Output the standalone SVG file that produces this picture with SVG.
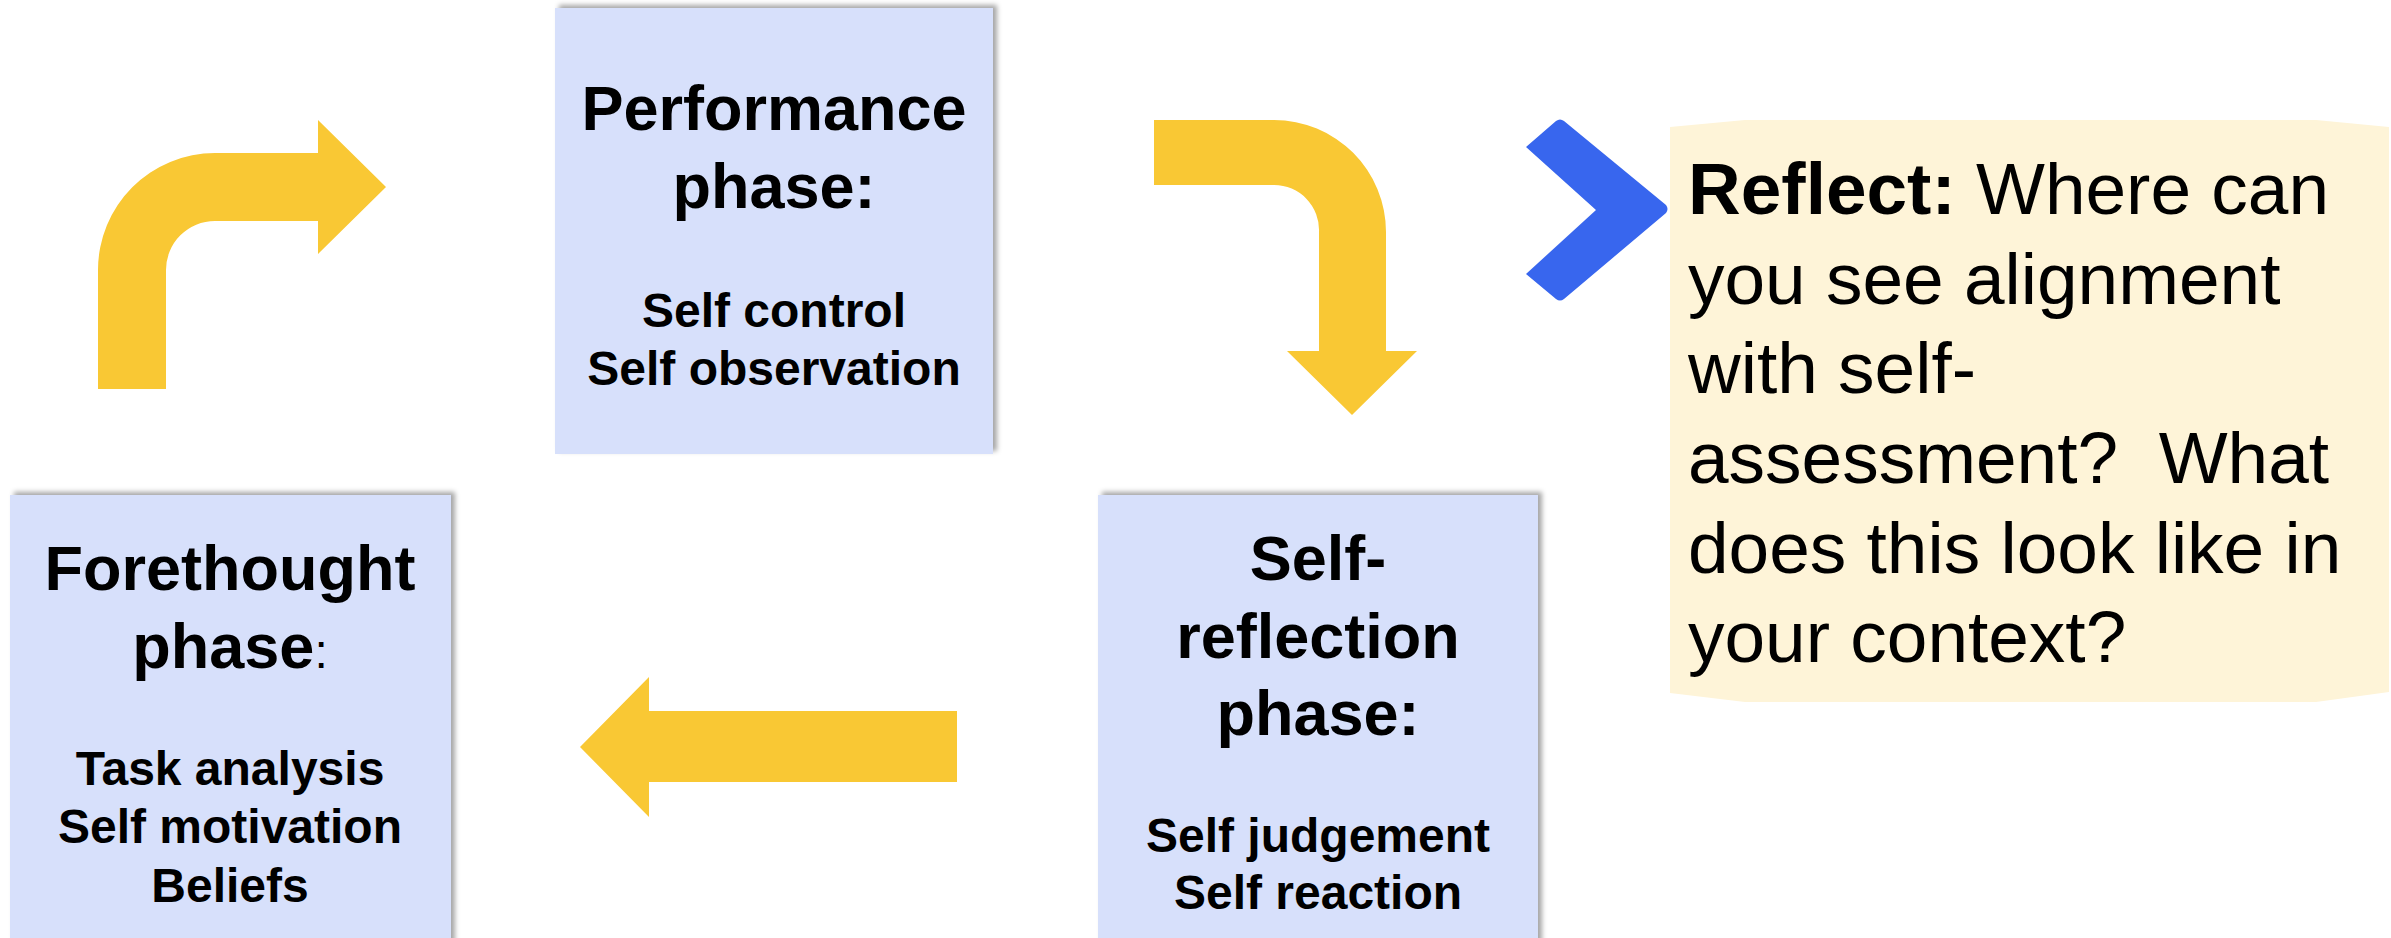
<svg xmlns="http://www.w3.org/2000/svg" width="2391" height="938" viewBox="0 0 2391 938">
  <style>
    .box { fill: #D7E0FB; filter: url(#sh); }
    .arrow { fill: #F9C834; }
    .h { font-family: "Liberation Sans", Arial, sans-serif; font-weight: bold; font-size: 63px; fill: #000; text-anchor: middle; }
    .s { font-family: "Liberation Sans", Arial, sans-serif; font-weight: bold; font-size: 48px; fill: #000; text-anchor: middle; }
    .q { font-family: "Liberation Sans", Arial, sans-serif; font-size: 73px; fill: #000; white-space: pre; }
  </style>
  <defs>
    <filter id="sh" x="-5%" y="-5%" width="115%" height="115%">
      <feDropShadow dx="4" dy="-3" stdDeviation="2.5" flood-color="#000" flood-opacity="0.35"/>
    </filter>
  </defs>
  <rect width="2391" height="938" fill="#FFFFFF"/>

  <g id="connectors">
    <path class="arrow" d="M98,389 V270 A117,117 0 0 1 215,153 H318 V120 L386,187 L318,254 V221 H215 A49,49 0 0 0 166,270 V389 Z"/>
    <path class="arrow" d="M1154,120 H1274 A112,112 0 0 1 1386,232 V351 H1417 L1352,415 L1287,351 H1319 V232 A45,45 0 0 0 1274,185 H1154 Z"/>
    <path class="arrow" d="M957,711 V782 H649 V817 L580,747 L649,677 V711 Z"/>
    <path fill="#3866EE" d="M1526,147 L1556,121 Q1560,118 1564,121 L1666,205 Q1669,209 1666,213 L1564,299 Q1560,302 1556,299 L1526,274 L1596,210 Z"/>
  </g>

  <g id="performance">
    <rect class="box" x="555" y="8" width="438" height="446"/>
    <text class="h" x="774" y="130">Performance</text>
    <text class="h" x="774" y="208">phase:</text>
    <text class="s" x="774" y="327">Self control</text>
    <text class="s" x="774" y="385">Self observation</text>
  </g>

  <g id="forethought">
    <rect class="box" x="10" y="495" width="441" height="460"/>
    <text class="h" x="230" y="590">Forethought</text>
    <text class="h" x="230" y="668">phase<tspan font-weight="normal" font-size="48">:</tspan></text>
    <text class="s" x="230" y="785">Task analysis</text>
    <text class="s" x="230" y="843">Self motivation</text>
    <text class="s" x="230" y="902">Beliefs</text>
  </g>

  <g id="self-reflection">
    <rect class="box" x="1098" y="495" width="440" height="460"/>
    <text class="h" x="1318" y="580">Self-</text>
    <text class="h" x="1318" y="658">reflection</text>
    <text class="h" x="1318" y="735">phase:</text>
    <text class="s" x="1318" y="852">Self judgement</text>
    <text class="s" x="1318" y="909">Self reaction</text>
  </g>

  <g id="reflect">
    <path fill="#FEF4D8" d="M1670,127 L1745,120 H2316 L2389,127 V692 L2316,702 H1745 L1670,693 Z"/>
    <text class="q" x="1688" y="214"><tspan font-weight="bold">Reflect:</tspan> Where can</text>
    <text class="q" x="1688" y="304">you see alignment</text>
    <text class="q" x="1688" y="393">with self-</text>
    <text class="q" x="1688" y="483">assessment?  What</text>
    <text class="q" x="1688" y="573">does this look like in</text>
    <text class="q" x="1688" y="662">your context?</text>
  </g>
</svg>
